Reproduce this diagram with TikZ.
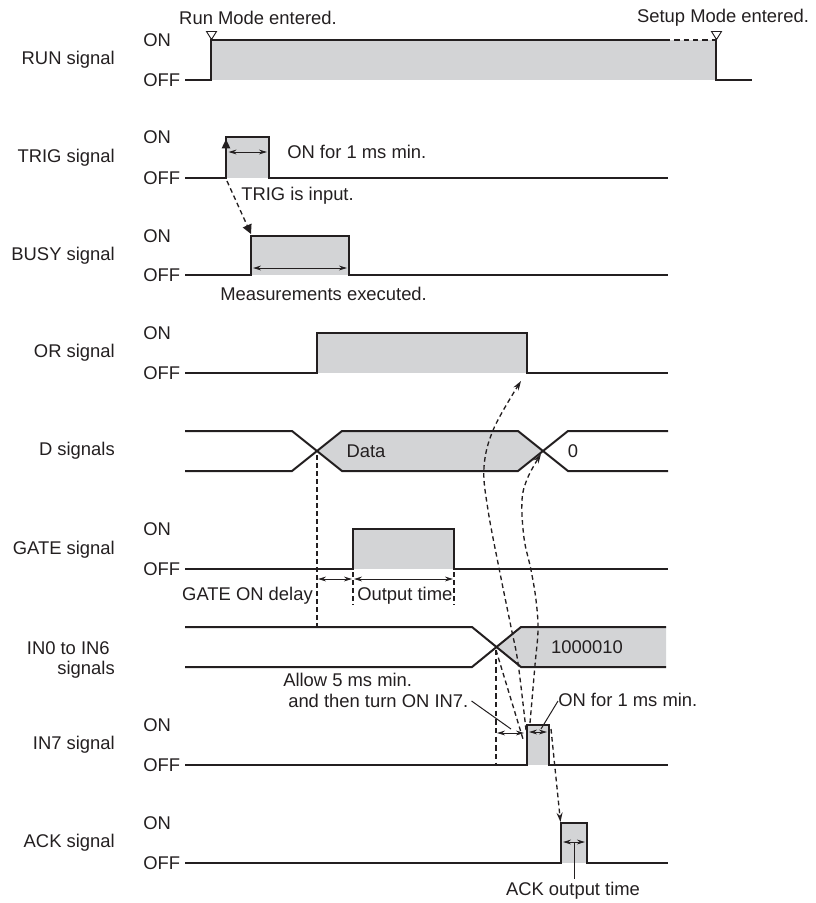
\documentclass[tikz,border=0pt]{standalone}
\usepackage{fontspec}
\setmainfont{Liberation Sans}
\usetikzlibrary{arrows.meta}
\definecolor{sigfill}{RGB}{211,212,214}
\definecolor{ink}{RGB}{35,31,32}
\begin{document}
\begin{tikzpicture}[x=0.75pt,y=-0.75pt,
  every node/.style={font=\fontsize{13.8}{16}\selectfont, text=ink, inner sep=0pt},
  sig/.style={draw=ink, line width=1.5pt, line join=miter},
  shade/.style={fill=sigfill},
  dim/.style={draw=ink, line width=0.75pt, {Stealth[length=6pt,width=3.6pt]}-{Stealth[length=6pt,width=3.6pt]}},
  leader/.style={draw=ink, line width=0.75pt},
  dsh/.style={draw=ink, line width=1pt, dash pattern=on 3.5pt off 2.5pt},
  dasharr/.style={dsh, -{Stealth[length=7pt,width=4.5pt]}},
  tri/.style={draw=ink, fill=white, line width=0.7pt},
  lbl/.style={anchor=east},
  lvl/.style={anchor=west}]
\useasboundingbox (0,0) rectangle (815,903);

% ---------- labels ----------
\node[lbl] (lrun)  at (115,60)  {RUN signal};
\node[lbl] (ltrig) at (115,158) {TRIG signal};
\node[lbl] (lbusy) at (115,256) {BUSY signal};
\node[lbl] (lor)   at (115,353) {OR signal};
\node[lbl] (ld)    at (115,451) {D signals};
\node[lbl] (lgate) at (115,550) {GATE signal};
\node[lbl] (lin0a) at (110,648) {IN0 to IN6};
\node[lbl] (lin0b) at (115,670) {signals};
\node[lbl] (lin7)  at (115,745) {IN7 signal};
\node[lbl] (lack)  at (115,843) {ACK signal};

\foreach \on/\off/\n in {40/80/run,137/178/trig,236/275/busy,333/373/or,529/569/gate,725/765/in7,823/863/ack}{
  \node[lvl] (on\n)  at (143,\on)  {ON};
  \node[lvl] (off\n) at (143,\off) {OFF};
}

% ---------- RUN ----------
\fill[shade] (211,40) rectangle (716,80);
\draw[sig] (185,80) -- (211,80) -- (211,40) -- (665,40);
\draw[sig, line width=1pt, dash pattern=on 4pt off 3pt] (665,40) -- (716,40);
\draw[sig] (716,40) -- (716,80) -- (752,80);
\draw[tri] (206.5,31.5) -- (216.5,31.5) -- (211.5,39.5) -- cycle;
\draw[tri] (711.5,31.5) -- (721.5,31.5) -- (716.5,39.5) -- cycle;
\node (trun) at (258,18) {Run Mode entered.};
\node (tset) at (723,18) {Setup Mode entered.};

% ---------- TRIG ----------
\fill[shade] (226,137) rectangle (269,178);
\draw[sig] (185,178) -- (226,178) -- (226,137) -- (269,137) -- (269,178) -- (668,178);
\draw[draw=ink, line width=2.2pt, -{Triangle[length=7pt,width=6pt]}] (226,178) -- (226,139);
\draw[dim] (228.5,152) -- (267,152);
\node[anchor=west] (ton) at (287,152) {ON for 1 ms min.};
\node[anchor=west] (tin) at (241,196) {TRIG is input.};
\coordinate (trigfoot) at (227,181);
\coordinate (busyhead) at (251,234);
\draw[dsh, -{Triangle[length=7pt,width=7pt]}] (trigfoot) -- (busyhead);

% ---------- BUSY ----------
\fill[shade] (251,236) rectangle (349,275);
\draw[sig] (185,275) -- (251,275) -- (251,236) -- (349,236) -- (349,275) -- (668,275);
\draw[dim] (253,268) -- (347,268);
\node[anchor=west] (meas) at (220,294) {Measurements executed.};

% ---------- OR ----------
\fill[shade] (317,333) rectangle (527,373);
\draw[sig] (185,373) -- (317,373) -- (317,333) -- (527,333) -- (527,373) -- (668,373);

% ---------- D ----------
\fill[shade] (317,451) -- (342,431) -- (518,431) -- (543,451) -- (518,471) -- (342,471) -- cycle;
\draw[sig] (185,431) -- (292,431) -- (342,471) -- (518,471) -- (568,431) -- (668,431);
\draw[sig] (185,471) -- (292,471) -- (342,431) -- (518,431) -- (568,471) -- (668,471);
\node (data) at (366,451) {Data};
\node (zero) at (573,451) {0};

% ---------- GATE ----------
\fill[shade] (353,529) rectangle (454,569);
\draw[sig] (185,569) -- (353,569) -- (353,529) -- (454,529) -- (454,569) -- (668,569);
\draw[dsh] (317,455) -- (317,630);
\draw[dsh] (353,572) -- (353,605);
\draw[dsh] (454,572) -- (454,605);
\draw[dim] (318,579) -- (352,579);
\draw[dim] (354,579) -- (453,579);
\node[anchor=east] (gdel) at (313,596) {GATE ON delay};
\node[anchor=west] (gout) at (357,596) {Output time};

% ---------- IN0 to IN6 ----------
\fill[shade] (497,647) -- (521,627) -- (666,627) -- (666,667) -- (521,667) -- cycle;
\draw[sig] (185,627) -- (472,627) -- (521,667) -- (666,667);
\draw[sig] (185,667) -- (472,667) -- (521,627) -- (666,627);
\node (code) at (587,647) {1000010};

% ---------- IN7 ----------
\fill[shade] (527,725) rectangle (549,765);
\draw[sig] (185,765) -- (527,765) -- (527,725) -- (549,725) -- (549,765) -- (668,765);
\draw[draw=ink, line width=1.6pt, dash pattern=on 4pt off 2.5pt] (496,650) -- (496,765);
\draw[dim] (497,733) -- (524,733);
\draw[dim] (529,732) -- (547,732);
\node[anchor=west] (allow1) at (283,680) {Allow 5 ms min.};
\node[anchor=west] (allow2) at (288,701) {and then turn ON IN7.};
\node[anchor=west] (on1ms)  at (558,700) {ON for 1 ms min.};
\draw[leader] (allow2.east) ++(3,0) -- (511,729);
\draw[leader] (on1ms.west) ++(0,1) -- (541,729);

% dashed relations
\coordinate (in0x) at (496,650);
\coordinate (in7rise) at (523,739);
\draw[dsh] (in0x) -- (in7rise);
\draw[dasharr] plot[smooth, tension=0.6] coordinates {(526,730) (518,663) (511,627) (500,573) (488,510) (484,467) (494,428) (521,381)};
\draw[dasharr] plot[smooth, tension=0.6] coordinates {(530,723) (535,665) (538,630) (536,600) (531,570) (524,538) (522,500) (528,477) (541,454)};
\coordinate (in7fall) at (551,729);
\coordinate (ackrise) at (560.5,822);
\draw[dasharr] (in7fall) -- (ackrise);

% ---------- ACK ----------
\fill[shade] (561,823) rectangle (587,863);
\draw[sig] (185,863) -- (561,863) -- (561,823) -- (587,823) -- (587,863) -- (668,863);
\draw[dim] (563,842) -- (585,842);
\draw[leader] (574,842) -- (574,879);
\node (ackt) at (573,891) {ACK output time};
\end{tikzpicture}
\end{document}
